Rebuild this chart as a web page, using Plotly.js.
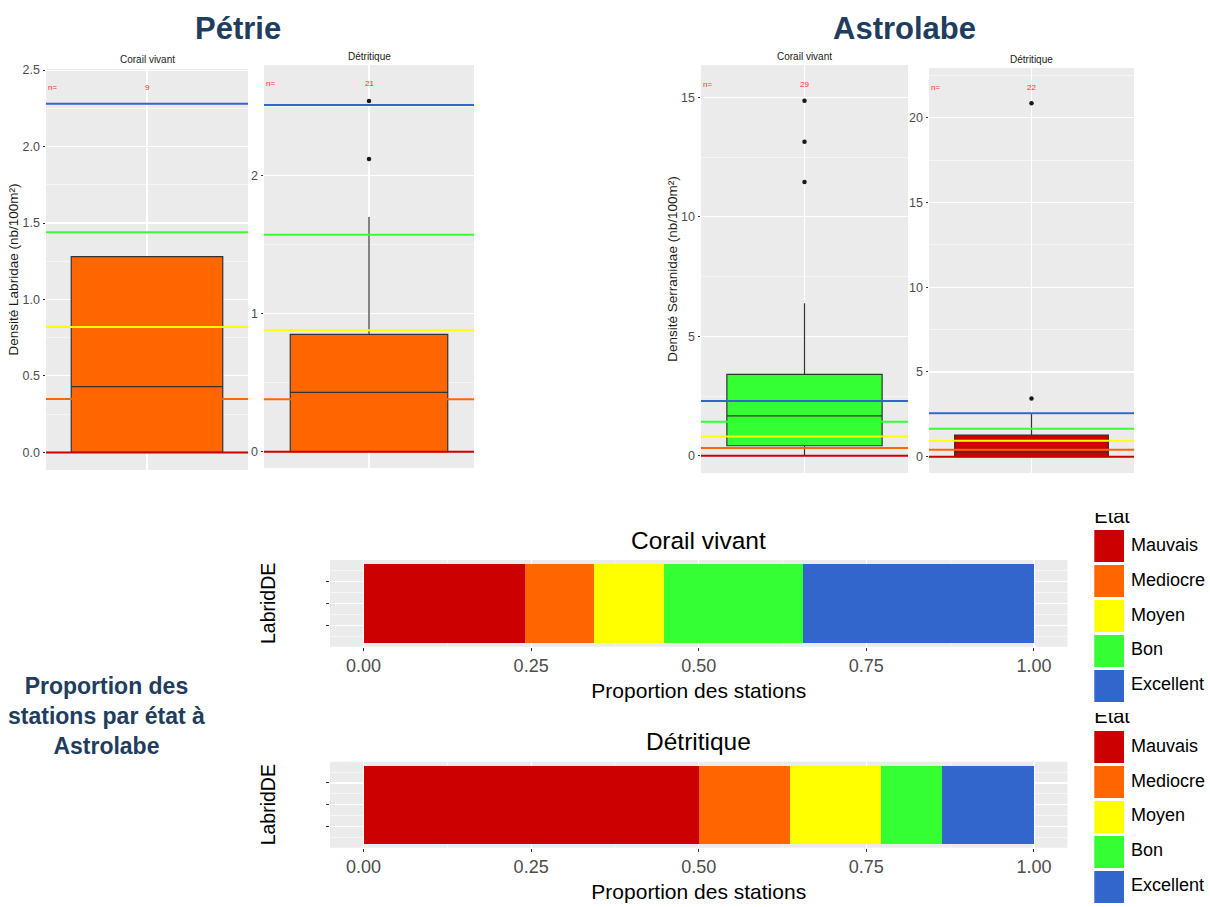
<!DOCTYPE html>
<html><head><meta charset="utf-8">
<script src="https://cdn.plot.ly/plotly-3.0.1.min.js"></script>
<style>html,body{margin:0;padding:0;background:#fff;}#chart{width:1210px;height:907px;}</style>
</head><body><div id="chart"></div>
<script>
// ---------------- data ----------------
const etats = ['Mauvais', 'Mediocre', 'Moyen', 'Bon', 'Excellent'];
const etatColors = ['#CC0000', '#FF6600', '#FFFF00', '#33FF33', '#3366CC'];

const siteTitles = ['Pétrie', 'Astrolabe'];
const panelNames = ['Corail vivant', 'Détritique', 'Corail vivant', 'Détritique'];
const yTitles = ['Densité Labridae (nb/100m²)', '', 'Densité Serranidae (nb/100m²)', ''];
const stationCounts = [9, 21, 29, 22];

const boxQ1 = [0, 0, 0.42, 0];
const boxMedian = [0.43, 0.43, 1.67, 0.28];
const boxQ3 = [1.28, 0.85, 3.41, 1.28];
const boxLowerWhisker = [0, 0, 0, 0];
const boxUpperWhisker = [1.28, 1.70, 6.38, 2.56];
const boxEtat = ['Mediocre', 'Mediocre', 'Bon', 'Mauvais'];

const outliersPetrieCorail = [];
const outliersPetrieDetritique = [2.12, 2.54];
const outliersAstrolabeCorail = [14.85, 13.14, 11.46];
const outliersAstrolabeDetritique = [3.44, 20.85];

// state thresholds (Mauvais, Mediocre, Moyen, Bon, Excellent)
const seuilsPetrieCorail = [0, 0.35, 0.82, 1.44, 2.28];
const seuilsPetrieDetritique = [0, 0.38, 0.88, 1.57, 2.51];
const seuilsAstrolabeCorail = [0, 0.33, 0.81, 1.42, 2.29];
const seuilsAstrolabeDetritique = [0, 0.41, 0.94, 1.65, 2.56];

const yTickDtick = [0.5, 1, 5, 5];
const yTickFormat = ['.1f', '', '', ''];

const barCategories = ['Corail vivant', 'Détritique'];
const propCorailVivant = [0.241, 0.103, 0.104, 0.207, 0.345];
const propDetritique = [0.500, 0.136, 0.136, 0.091, 0.137];
const propTicks = [0, 0.25, 0.5, 0.75, 1];
const yBarLabel = 'LabridDE';
const xBarLabel = 'Proportion des stations';
const legendTitle = 'Etat';
const sideText = 'Proportion des<br>stations par état à<br>Astrolabe';

// ---------------- layout helpers ----------------
const W = 1210, H = 907;
const FONT = 'Liberation Sans, Arial, Helvetica, sans-serif';
const NAVY = '#213D5E';
const px = v => v / W;
const py = v => 1 - v / H;
const domX = (a, b) => [px(a), px(b)];
const domY = (top, bottom) => [py(bottom), py(top)];

const outliers = [outliersPetrieCorail, outliersPetrieDetritique, outliersAstrolabeCorail, outliersAstrolabeDetritique];
const seuils = [seuilsPetrieCorail, seuilsPetrieDetritique, seuilsAstrolabeCorail, seuilsAstrolabeDetritique];

const panelGeom = [
  {xd: [46, 248], yd: [69, 470], yr: [-0.115, 2.507], stripY: 60},
  {xd: [264, 474], yd: [65, 468], yr: [-0.118, 2.80], stripY: 56},
  {xd: [701, 908], yd: [65, 473], yr: [-0.72, 16.35], stripY: 56},
  {xd: [929, 1134], yd: [68, 473], yr: [-0.96, 22.93], stripY: 59}
];

const traces = [];
const shapes = [];
const annotations = [];
const layout = {
  width: W, height: H, margin: {l: 0, r: 0, t: 0, b: 0},
  paper_bgcolor: '#fff', plot_bgcolor: 'rgba(0,0,0,0)',
  showlegend: false, hovermode: false, barmode: 'stack',
  font: {family: FONT, color: '#1a1a1a'}
};

const XR = [0.4, 1.6];
panelGeom.forEach((g, i) => {
  const s = i === 0 ? '' : String(i + 1);
  const xa = 'x' + s, ya = 'y' + s;
  layout['xaxis' + s] = {
    domain: domX(g.xd[0], g.xd[1]), range: XR, anchor: ya,
    tickvals: [1], showticklabels: false, ticks: '',
    showgrid: true, gridcolor: '#fff', gridwidth: 1.1, zeroline: false, showline: false, fixedrange: true
  };
  const yax = {
    domain: domY(g.yd[0], g.yd[1]), range: g.yr, anchor: xa,
    tick0: 0, dtick: yTickDtick[i], tickformat: yTickFormat[i],
    ticks: 'outside', ticklen: 2.5, tickwidth: 1, tickcolor: '#333',
    tickfont: {size: 12.5, color: '#4d4d4d', family: FONT},
    showgrid: true, gridcolor: '#fff', gridwidth: 1.1, zeroline: false, showline: false, fixedrange: true,
    minor: {tick0: 0, dtick: yTickDtick[i] / 2, showgrid: true, gridcolor: '#fff', gridwidth: 0.55, ticks: ''}
  };
  if (yTitles[i]) yax.title = {text: yTitles[i], font: {size: 13.5, color: '#1a1a1a', family: FONT}, standoff: 0};
  layout['yaxis' + s] = yax;

  shapes.push({type: 'rect', xref: xa + ' domain', yref: ya + ' domain', x0: 0, x1: 1, y0: 0, y1: 1,
    fillcolor: '#EBEBEB', line: {width: 0}, layer: 'below'});

  traces.push({
    type: 'box', x: [1], q1: [boxQ1[i]], median: [boxMedian[i]], q3: [boxQ3[i]],
    lowerfence: [boxLowerWhisker[i]], upperfence: [boxUpperWhisker[i]],
    width: 0.9, whiskerwidth: 0, boxpoints: false,
    fillcolor: etatColors[etats.indexOf(boxEtat[i])],
    line: {color: '#333333', width: 1.2}, xaxis: xa, yaxis: ya, hoverinfo: 'skip'
  });
  seuils[i].forEach((t, k) => {
    traces.push({type: 'scatter', mode: 'lines', x: XR, y: [t, t], xaxis: xa, yaxis: ya,
      line: {color: etatColors[k], width: 2}, hoverinfo: 'skip'});
  });
  if (outliers[i].length) {
    traces.push({type: 'scatter', mode: 'markers', x: outliers[i].map(() => 1), y: outliers[i],
      xaxis: xa, yaxis: ya, marker: {color: '#1a1a1a', size: 4.5}, hoverinfo: 'skip'});
  }
  // strip title
  annotations.push({xref: xa + ' domain', x: 0.5, yref: 'paper', y: py(g.stripY), text: panelNames[i],
    showarrow: false, xanchor: 'center', yanchor: 'middle', font: {size: 10, color: '#1a1a1a', family: FONT}});
  // n= labels
  annotations.push({xref: xa + ' domain', x: 0.032, yref: ya + ' domain', y: 0.953, text: 'n=',
    showarrow: false, xanchor: 'center', yanchor: 'middle', font: {size: 8, color: '#FF2A2A', family: FONT}});
  annotations.push({xref: xa, x: 1, yref: ya + ' domain', y: 0.953, text: String(stationCounts[i]),
    showarrow: false, xanchor: 'center', yanchor: 'middle', font: {size: 8, color: '#FF2A2A', family: FONT}});
});

// site titles
annotations.push({xref: 'paper', yref: 'paper', x: px(238), y: py(28.5), text: '<b>' + siteTitles[0] + '</b>',
  showarrow: false, xanchor: 'center', yanchor: 'middle', font: {size: 31, color: NAVY, family: FONT}});
annotations.push({xref: 'paper', yref: 'paper', x: px(904), y: py(28.5), text: '<b>' + siteTitles[1] + '</b>',
  showarrow: false, xanchor: 'center', yanchor: 'middle', font: {size: 31, color: NAVY, family: FONT}});
// side text
annotations.push({xref: 'paper', yref: 'paper', x: px(106), y: py(716), text: '<b>' + sideText + '</b>',
  showarrow: false, xanchor: 'center', yanchor: 'middle', align: 'center', font: {size: 23, color: NAVY, family: FONT}});

// ---------------- stacked proportion bars ----------------
const barGeom = [
  {yd: [560, 646.7], titleY: 540, props: propCorailVivant},
  {yd: [761.7, 847.7], titleY: 741.5, props: propDetritique}
];
barGeom.forEach((g, j) => {
  const s = String(5 + j);
  const xa = 'x' + s, ya = 'y' + s;
  layout['xaxis' + s] = {
    domain: domX(330, 1067.5), range: [-0.05, 1.05], anchor: ya,
    tickvals: propTicks, tickformat: '.2f', ticks: 'outside', ticklen: 3, tickcolor: '#333',
    tickfont: {size: 18, color: '#4d4d4d', family: FONT},
    showgrid: true, gridcolor: '#fff', gridwidth: 1.1, zeroline: false, showline: false, fixedrange: true,
    minor: {tickvals: [0.125, 0.375, 0.625, 0.875], showgrid: true, gridcolor: '#fff', gridwidth: 0.55, ticks: ''},
    title: {text: xBarLabel, font: {size: 21, color: '#000', family: FONT}, standoff: 8}
  };
  layout['yaxis' + s] = {
    domain: domY(g.yd[0], g.yd[1]), range: [0.505, 1.495], anchor: xa,
    tickvals: [0.75, 1, 1.25], ticktext: ['', '', ''], ticks: 'outside', ticklen: 3, tickcolor: '#333',
    showgrid: true, gridcolor: '#fff', gridwidth: 1.1, zeroline: false, showline: false, fixedrange: true,
    minor: {tickvals: [0.625, 0.875, 1.125, 1.375], showgrid: true, gridcolor: '#fff', gridwidth: 0.55, ticks: ''},
    title: {text: yBarLabel, font: {size: 19.5, color: '#000', family: FONT}, standoff: 42}
  };
  shapes.push({type: 'rect', xref: xa + ' domain', yref: ya + ' domain', x0: 0, x1: 1, y0: 0, y1: 1,
    fillcolor: '#EBEBEB', line: {width: 0}, layer: 'below'});
  etats.forEach((e, k) => {
    traces.push({type: 'bar', orientation: 'h', y: [1], x: [g.props[k]], width: 0.9, name: e,
      marker: {color: etatColors[k], line: {width: 0}}, xaxis: xa, yaxis: ya, hoverinfo: 'skip'});
  });
  annotations.push({xref: xa + ' domain', x: 0.5, yref: 'paper', y: py(g.titleY), text: barCategories[j],
    showarrow: false, xanchor: 'center', yanchor: 'middle', font: {size: 24.5, color: '#000', family: FONT}});
});

// ---------------- legends (ggplot-style keys) ----------------
const legGeom = [
  {yd: [513, 703.25], yr: [4.5, -0.951]},
  {yd: [713, 904.15], yr: [4.5, -0.977]}
];
const rows = etats.map((e, k) => k);
legGeom.forEach((g, j) => {
  const s = String(7 + j);
  const xa = 'x' + s, ya = 'y' + s;
  layout['xaxis' + s] = {domain: domX(1094.3, 1210), range: [0, 3.857], anchor: ya, visible: false, fixedrange: true};
  layout['yaxis' + s] = {domain: domY(g.yd[0], g.yd[1]), range: g.yr, anchor: xa, visible: false, fixedrange: true};
  traces.push({type: 'bar', orientation: 'h', y: rows, x: rows.map(() => 1), width: 0.917,
    marker: {color: etatColors, line: {width: 0}}, xaxis: xa, yaxis: ya, hoverinfo: 'skip'});
  traces.push({type: 'scatter', mode: 'text', y: rows, x: rows.map(() => 1.22), text: etats,
    textposition: 'middle right', textfont: {size: 18, color: '#000', family: FONT},
    cliponaxis: false, xaxis: xa, yaxis: ya, hoverinfo: 'skip'});
  traces.push({type: 'scatter', mode: 'text', y: [-0.82], x: [0], text: [legendTitle],
    textposition: 'middle right', textfont: {size: 20, color: '#000', family: FONT},
    cliponaxis: true, xaxis: xa, yaxis: ya, hoverinfo: 'skip'});
});

layout.shapes = shapes;
layout.annotations = annotations;

Plotly.newPlot('chart', traces, layout, {displayModeBar: false, staticPlot: true});
</script>
</body></html>
